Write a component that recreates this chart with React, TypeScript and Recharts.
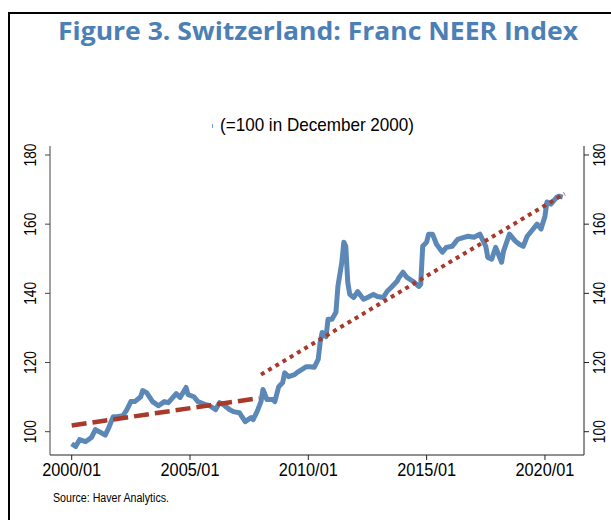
import React from "react";
import { LineChart, Line, XAxis, YAxis } from "recharts";

// NEER index (month, value)
const neerDates = [
  "2000/01", "2000/03", "2000/05", "2000/08", "2000/11", "2001/01", "2001/03", "2001/06", "2001/08", "2001/10",
  "2001/12", "2002/03", "2002/05", "2002/07", "2002/09", "2002/12", "2003/01", "2003/03", "2003/06", "2003/09",
  "2003/12", "2004/02", "2004/06", "2004/08", "2004/11", "2004/12", "2005/03", "2005/05", "2005/09", "2005/11",
  "2006/02", "2006/04", "2006/06", "2006/09", "2006/11", "2007/02", "2007/05", "2007/08", "2007/09", "2007/11",
  "2008/01", "2008/02", "2008/04", "2008/07", "2008/08", "2008/10", "2008/12", "2009/01", "2009/03", "2009/06",
  "2009/08", "2009/12", "2010/02", "2010/04", "2010/06", "2010/07", "2010/08", "2010/10", "2010/11", "2011/01",
  "2011/03", "2011/04", "2011/06", "2011/07", "2011/08", "2011/09", "2011/10", "2011/12", "2012/02", "2012/05",
  "2012/07", "2012/10", "2012/12", "2013/03", "2013/05", "2013/07", "2013/10", "2013/11", "2014/01", "2014/03",
  "2014/06", "2014/09", "2014/10", "2014/11", "2015/01", "2015/02", "2015/04", "2015/06", "2015/09", "2015/11",
  "2016/02", "2016/04", "2016/05", "2016/08", "2016/10", "2017/01", "2017/04", "2017/07", "2017/08", "2017/10",
  "2017/12", "2018/03", "2018/04", "2018/07", "2018/10", "2018/12", "2019/02", "2019/04", "2019/07", "2019/09",
  "2019/11", "2020/01", "2020/02", "2020/04", "2020/07", "2020/08", "2020/10",
];
const neerValues = [
  96.5, 95.7, 97.7, 97.1, 98.3, 100.6, 100.0, 99.0, 101.4, 104.3,
  104.3, 104.6, 106.4, 108.7, 108.7, 110.1, 111.9, 111.3, 108.7, 107.5,
  108.7, 108.4, 111.0, 109.9, 112.8, 110.7, 110.1, 108.7, 107.8, 107.5,
  106.4, 108.4, 107.8, 106.4, 105.8, 105.5, 102.9, 104.1, 103.5, 105.8,
  108.7, 112.2, 109.3, 109.3, 108.7, 113.0, 114.2, 117.0, 115.9, 116.5,
  117.4, 118.8, 118.8, 118.6, 120.9, 125.8, 128.7, 127.5, 132.5, 132.5,
  134.5, 142.0, 149.0, 154.8, 153.6, 143.2, 139.7, 138.8, 140.5, 138.3,
  138.8, 139.7, 139.1, 138.8, 140.6, 141.7, 143.5, 144.6, 146.1, 144.6,
  143.5, 142.0, 142.6, 153.6, 154.8, 157.1, 157.1, 154.2, 151.9, 153.3,
  153.6, 155.1, 155.7, 156.2, 156.5, 156.2, 157.1, 153.6, 150.4, 149.9,
  153.3, 149.0, 152.2, 157.1, 155.1, 154.2, 153.6, 156.5, 158.6, 160.0,
  158.6, 162.3, 166.4, 165.8, 167.8, 168.1, 167.8,
];

// trend lines
const trend1Dates = ["2000/01", "2007/12"];
const trend1Values = [101.8, 109.7];
const trend2Dates = ["2008/01", "2020/11"];
const trend2Values = [116.5, 168.8];

const yTicks = [100, 120, 140, 160, 180];
const xTickLabels = ["2000/01", "2005/01", "2010/01", "2015/01", "2020/01"];

// months since 2000/01
const toMonth = (d: string) => {
  const [y, m] = d.split("/").map(Number);
  return (y - 2000) * 12 + (m - 1);
};

const neerData = neerDates.map((d, i) => ({ t: toMonth(d), v: neerValues[i] }));
const trend1Data = trend1Dates.map((d, i) => ({ t: toMonth(d), v: trend1Values[i] }));
const trend2Data = trend2Dates.map((d, i) => ({ t: toMonth(d), v: trend2Values[i] }));
const xTicks = xTickLabels.map(toMonth);

const font = "'Liberation Sans', Arial, sans-serif";

const LeftTick = (props: any) => {
  const { y, payload } = props;
  return (
    <text x={30.5} y={y} dy="0.36em" transform={`rotate(-90 30.5 ${y})`} textAnchor="middle"
      fontFamily={font} fontSize={16.5} fill="#000" textLength={23} lengthAdjust="spacingAndGlyphs">
      {payload.value}
    </text>
  );
};

const RightTick = (props: any) => {
  const { y, payload } = props;
  return (
    <text x={599} y={y} dy="0.36em" transform={`rotate(-90 599 ${y})`} textAnchor="middle"
      fontFamily={font} fontSize={16.5} fill="#000" textLength={23} lengthAdjust="spacingAndGlyphs">
      {payload.value}
    </text>
  );
};

const BottomTick = (props: any) => {
  const { x, payload } = props;
  const label = xTickLabels[xTicks.indexOf(payload.value)];
  return (
    <text x={x} y={476} textAnchor="middle" fontFamily={font} fontSize={18.5} fill="#000"
      textLength={59} lengthAdjust="spacingAndGlyphs">
      {label}
    </text>
  );
};

export default function App() {
  return (
    <div style={{ position: "absolute", left: 0, top: 0, width: 611, height: 520, background: "#fff" }}>
      <div style={{ position: "absolute", left: 0, top: 0 }}>
        <LineChart width={611} height={520} margin={{ top: 146, right: 0, left: 10, bottom: 25 }}>
          <XAxis dataKey="t" type="number" domain={[-11, 259.8]} ticks={xTicks} allowDataOverflow
            height={40} tickSize={5} stroke="#222" tick={<BottomTick />} />
          <YAxis yAxisId="left" orientation="left" type="number" domain={[93.26, 182.6]} ticks={yTicks}
            allowDataOverflow width={40} tickSize={5} stroke="#444" tick={<LeftTick />} />
          <YAxis yAxisId="right" orientation="right" type="number" domain={[93.26, 182.6]} ticks={yTicks}
            allowDataOverflow width={27} tickSize={5} stroke="#222" tick={<RightTick />} />
          <Line yAxisId="left" data={neerData} dataKey="v" type="linear" stroke="#5b88b7" strokeWidth={5}
            dot={false} isAnimationActive={false} strokeLinejoin="round" />
          <Line yAxisId="left" data={trend1Data} dataKey="v" type="linear" stroke="#a8392b" strokeWidth={4.5}
            strokeDasharray="15 6" dot={false} isAnimationActive={false} />
          <Line yAxisId="left" data={trend2Data} dataKey="v" type="linear" stroke="#a8392b" strokeWidth={4}
            strokeDasharray="4 4.4" dot={false} isAnimationActive={false} />
        </LineChart>
      </div>
      <svg width={611} height={520} style={{ position: "absolute", left: 0, top: 0, pointerEvents: "none" }}>
        <rect x={8} y={12} width={603} height={2} fill="#000" />
        <rect x={8} y={12} width={2} height={508} fill="#000" />
        <text x={318} y={40} textAnchor="middle" fontFamily="'Open Sans', sans-serif" fontWeight={700}
          fontSize={25} fill="#4b7fb6" textLength={520} lengthAdjust="spacingAndGlyphs">
          Figure 3. Switzerland: Franc NEER Index
        </text>
        <rect x={212} y={124} width={1} height={4} fill="#7b9cc4" />
        <text x={317} y={131} textAnchor="middle" fontFamily={font} fontSize={18.5} fill="#000"
          textLength={194} lengthAdjust="spacingAndGlyphs">
          (=100 in December 2000)
        </text>
        <text x={53} y={502} fontFamily={font} fontSize={12} fill="#000"
          textLength={116} lengthAdjust="spacingAndGlyphs">
          Source: Haver Analytics.
        </text>
      </svg>
    </div>
  );
}
